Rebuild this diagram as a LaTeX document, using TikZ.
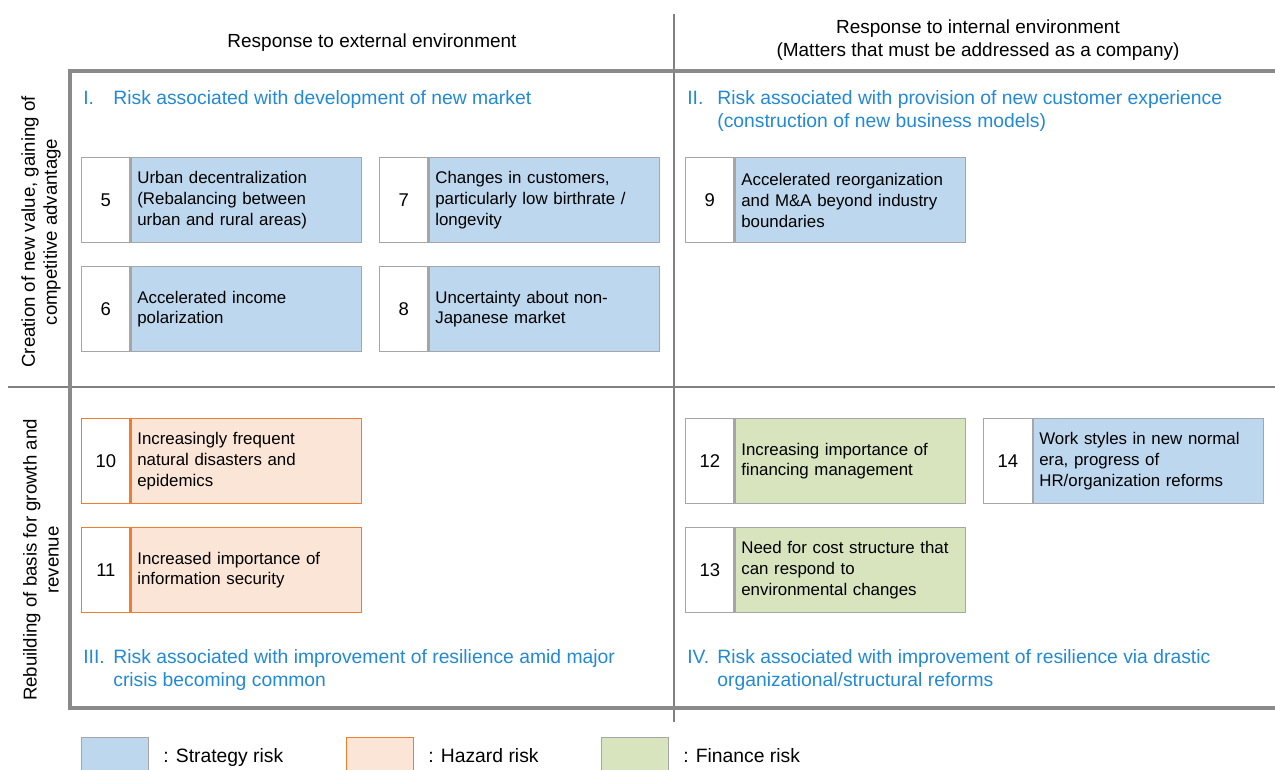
\documentclass[tikz,border=0pt]{standalone}
\usepackage{fontspec}
\setmainfont{Liberation Sans}
\definecolor{stratblue}{HTML}{BDD7EE}
\definecolor{hazfill}{HTML}{FBE5D6}
\definecolor{hazline}{HTML}{ED7D31}
\definecolor{finfill}{HTML}{D7E4BD}
\definecolor{boxgray}{HTML}{A6A6A6}
\definecolor{headblue}{HTML}{2289D6}
\definecolor{linegray}{HTML}{808080}
\definecolor{framegray}{HTML}{8A8A8A}
\begin{document}
\begin{tikzpicture}[x=0.02cm,y=-0.02cm,
  thinline/.style={draw=linegray,line width=1pt},
  frameline/.style={draw=framegray,line width=2.5pt},
  numcell/.style={draw=boxgray,fill=white,line width=0.7pt,minimum width=0.97cm,minimum height=1.7cm,inner sep=0pt,anchor=north west,font=\fontsize{10.5}{12}\selectfont},
  hnumcell/.style={numcell,draw=hazline},
  txtcell/.style={line width=0.7pt,minimum width=4.6cm,minimum height=1.7cm,text width=4.36cm,inner xsep=0.12cm,inner ysep=0pt,align=left,anchor=north west,font=\fontsize{9.6}{11.9}\selectfont},
  strat/.style={txtcell,draw=boxgray,fill=stratblue},
  hazard/.style={txtcell,draw=hazline,fill=hazfill},
  fin/.style={txtcell,draw=boxgray,fill=finfill},
  headtxt/.style={text=headblue,inner sep=0pt,anchor=north west,align=left,font=\fontsize{11}{13.6}\selectfont},
  toplabel/.style={inner sep=0pt,align=center,font=\fontsize{10.8}{13.6}\selectfont},
  sidelabel/.style={inner sep=0pt,align=center,rotate=90,font=\fontsize{10.6}{12.5}\selectfont},
  legbox/.style={line width=0.8pt,minimum width=1.34cm,minimum height=0.8cm,inner sep=0pt,anchor=north west},
  legtxt/.style={inner sep=0pt,anchor=base west,font=\fontsize{11}{13}\selectfont}
]
\useasboundingbox (0,0) rectangle (1275,769);

% grid lines
\coordinate (vtop) at (674,14);
\coordinate (vbot) at (674,722);
\coordinate (hl) at (8,387);
\coordinate (hr) at (1275,387);
\draw[thinline] (vtop) -- (vbot);
\draw[thinline] (hl) -- (hr);
\coordinate (ftr) at (1276,71);
\coordinate (ftl) at (70,71);
\coordinate (fbl) at (70,708);
\coordinate (fbr) at (1276,708);
\draw[frameline] (ftr) -- (ftl) -- (fbl) -- (fbr);

% column headers
\node[toplabel,anchor=base] (colA) at (372,47) {Response to external environment};
\node[toplabel,anchor=north] (colB) at (978,16) {\strut Response to internal environment\\(Matters that must be addressed as a company)};

% row labels
\node[sidelabel] (rowA) at (41,232) {Creation of new value, gaining of\\competitive advantage};
\node[sidelabel] (rowB) at (41,560) {Rebuilding of basis for growth and\\revenue};

% quadrant headings
\node[headtxt] (h1n) at (83,87) {\strut I.};
\node[headtxt] (h1t) at (113,87) {\strut Risk associated with development of new market};
\node[headtxt] (h2n) at (687,87) {\strut II.};
\node[headtxt] (h2t) at (717,87) {\strut Risk associated with provision of new customer experience\\(construction of new business models)};
\node[headtxt] (h3n) at (83,646) {\strut III.};
\node[headtxt] (h3t) at (113,646) {\strut Risk associated with improvement of resilience amid major\\crisis becoming common};
\node[headtxt] (h4n) at (687,646) {\strut IV.};
\node[headtxt] (h4t) at (717,646) {\strut Risk associated with improvement of resilience via drastic\\organizational/structural reforms};

% risk boxes
\node[numcell] (n5) at (81,157) {5};
\node[strat] (t5) at (n5.north east) {Urban decentralization\\(Rebalancing between\\urban and rural areas)};
\node[numcell] (n7) at (379,157) {7};
\node[strat] (t7) at (n7.north east) {Changes in customers,\\particularly low birthrate /\\longevity};
\node[numcell] (n6) at (81,266) {6};
\node[strat] (t6) at (n6.north east) {Accelerated income\\polarization};
\node[numcell] (n8) at (379,266) {8};
\node[strat] (t8) at (n8.north east) {Uncertainty about non-\\Japanese market};
\node[numcell] (n9) at (685,157) {9};
\node[strat] (t9) at (n9.north east) {Accelerated reorganization\\and M\&A beyond industry\\boundaries};

\node[hnumcell] (n10) at (81,418) {10};
\node[hazard] (t10) at (n10.north east) {Increasingly frequent\\natural disasters and\\epidemics};
\node[hnumcell] (n11) at (81,527) {11};
\node[hazard] (t11) at (n11.north east) {Increased importance of\\information security};
\node[numcell] (n12) at (685,418) {12};
\node[fin] (t12) at (n12.north east) {Increasing importance of\\financing management};
\node[numcell] (n14) at (983,418) {14};
\node[strat] (t14) at (n14.north east) {Work styles in new normal\\era, progress of\\HR/organization reforms};
\node[numcell] (n13) at (685,527) {13};
\node[fin] (t13) at (n13.north east) {Need for cost structure that\\can respond to\\environmental changes};

% legend
\node[legbox,fill=stratblue,draw=boxgray] (lb1) at (81,737) {};
\node[legtxt] (lt1) at (163,762) {: Strategy risk};
\node[legbox,fill=hazfill,draw=hazline] (lb2) at (346,737) {};
\node[legtxt] (lt2) at (428,762) {: Hazard risk};
\node[legbox,fill=finfill,draw=boxgray] (lb3) at (601,737) {};
\node[legtxt] (lt3) at (683,762) {: Finance risk};
\end{tikzpicture}
\end{document}
